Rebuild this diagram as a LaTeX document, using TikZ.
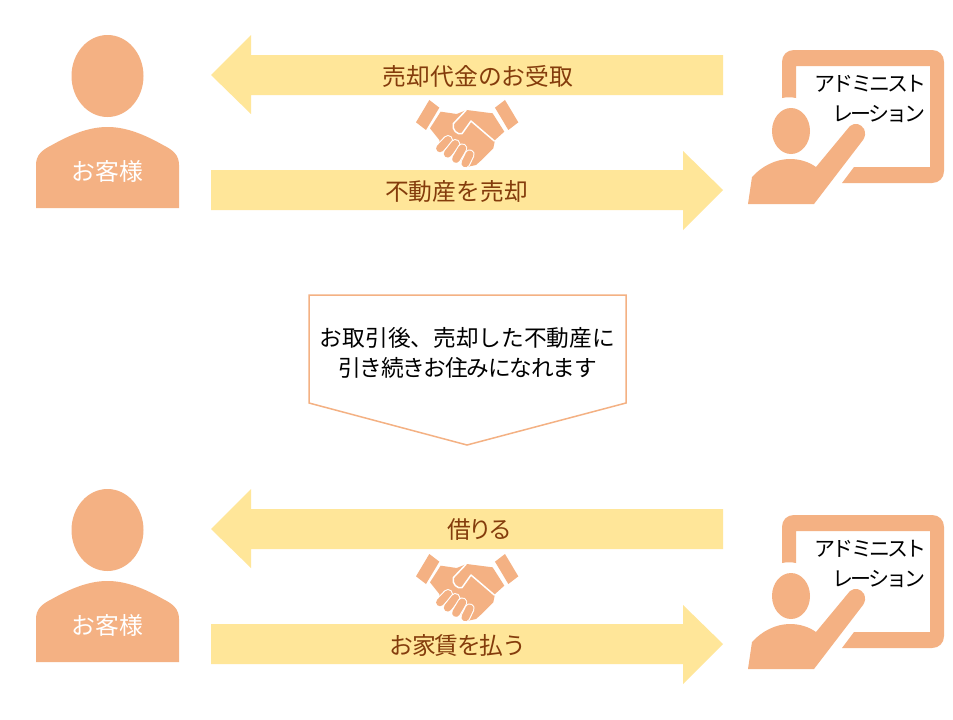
\documentclass[tikz,border=0pt]{standalone}
\usepackage{fontspec}
\setmainfont{Noto Sans CJK JP}
\newfontfamily\tightjp[LetterSpace=-13]{Noto Sans CJK JP}
\newfontfamily\slimjp[LetterSpace=-5.5]{Noto Sans CJK JP}
\definecolor{peach}{HTML}{F4B183}
\definecolor{band}{HTML}{FFE699}
\definecolor{brownink}{HTML}{843C0C}
\newcommand{\jp}[1]{\fontsize{#1}{#1}\selectfont}
\tikzset{
  bandtext/.style={text=brownink,font=\jp{23.8},inner sep=0pt,anchor=center},
  whitetext/.style={text=white,font=\jp{23.8},inner sep=0pt,anchor=center},
  blacktext/.style={text=black,font=\jp{22.7},inner sep=0pt,anchor=center},
  boardtext/.style={text=black,font=\tightjp\jp{21},inner sep=0pt,anchor=east},
  pics/customer/.style={code={
    \fill[peach] (107.5,76) ellipse[x radius=36,y radius=41];
    \fill[peach] (36,208) -- (36,165) .. controls (36,155) and (42,150) .. (52,145)
       .. controls (75,132) and (92,127) .. (107.5,127)
       .. controls (123,127) and (140,132) .. (163,145)
       .. controls (173,150) and (179,155) .. (179,165) -- (179,208) -- cycle;
  }},
  pics/shake/.style={code={
    \begin{scope}[shift={(400,85)},scale=0.3333]
      \fill[peach] (88,45) -- (118,68) -- (78,135) -- (48,112) -- cycle;
      \fill[peach] (315,45) -- (355,112) -- (325,135) -- (285,68) -- cycle;
      \fill[peach] (122,80) -- (170,87) -- (200,75) -- (278,85) -- (313,140) -- (285,165)
        -- (280,190) -- (262,208) -- (245,225) -- (228,240) -- (205,245) -- (150,205)
        -- (120,190) -- (118,165) -- (90,130) -- cycle;
      \draw[white,line width=1.5pt,line join=round,line cap=round] (198,76) -- (160,116)
        .. controls (155,135) and (172,150) .. (186,146) -- (213,108) -- (283,168);
      \foreach \xa/\ya/\xb/\yb in {144/165/120/190,166/177/143/206,187/190/168/222,209/208/196/235}{
        \draw[white,line width=10pt,line cap=round] (\xa,\ya) -- (\xb,\yb);
        \draw[peach,line width=7.8pt,line cap=round] (\xa,\ya) -- (\xb,\yb);
      }
    \end{scope}
  }},
  pics/board/.style={code={
    \fill[peach] (782,98) -- (782,62) .. controls (782,55) and (787,50) .. (794,50)
       -- (932,50) .. controls (939,50) and (944,55) .. (944,62)
       -- (944,171) .. controls (944,178) and (939,183) .. (932,183)
       -- (842,183) -- (854,167) -- (930,167) -- (930,66) -- (796,66) -- (796,98)
       .. controls (791,97) and (787,97) .. (782,98) -- cycle;
    \fill[peach] (791,131) ellipse[x radius=19,y radius=23];
    \fill[peach] (748,204) -- (752,177) .. controls (762,166) and (776,159) .. (790,159)
       .. controls (800,159) and (809,162) .. (816,167) -- (850,126)
       .. controls (855,122) and (861,124) .. (864,129) .. controls (866,133) and (865,137) .. (863,140)
       -- (814,204) -- cycle;
  }},
  pics/barrows/.style={code={
    \fill[band] (211,75) -- (251,35) -- (251,55) -- (723,55) -- (723,95) -- (251,95) -- (251,114) -- cycle;
    \fill[band] (211,170) -- (683,170) -- (683,151) -- (723,190) -- (683,230) -- (683,210) -- (211,210) -- cycle;
  }},
}
\begin{document}
\begin{tikzpicture}[x=1pt,y=-1pt]
\useasboundingbox (0,0) rectangle (953,720);
\fill[white] (0,0) rectangle (953,720);

% top group
\pic {barrows};
\pic {customer};
\pic {shake};
\pic {board};
\node[whitetext] (custA) at (107.5,171.5) {お客様};
\node[bandtext] (sellA) at (478,76) {売却代金のお受取};
\node[bandtext] (sellB) at (456.5,191.5) {不動産を売却};
\node[boardtext] (admA1) at (927,83.5) {アドミニスト};
\node[boardtext] (admA2) at (926,114) {レーション};

% callout
\draw[peach,line width=1.5pt,line join=miter] (309,295) -- (626,295) -- (626,403) -- (467,445) -- (309,403) -- cycle;
\node[blacktext] (noteA) at (467.5,337.5) {お取引後、売却した不動産に};
\node[blacktext,font=\slimjp\jp{22.7}] (noteB) at (467.5,367.5) {引き続きお住みになれます};

% bottom group
\begin{scope}[yshift=-454pt]
  \pic {barrows};
  \pic {customer};
  \pic {shake};
\end{scope}
\begin{scope}[yshift=-465pt]
  \pic {board};
\end{scope}
\node[whitetext] (custB) at (107.5,625.5) {お客様};
\node[bandtext,font=\tightjp\jp{23.8}] (lendA) at (480,530) {借りる};
\node[bandtext,font=\slimjp\jp{23.8}] (lendB) at (458,645.5) {お家賃を払う};
\node[boardtext] (admB1) at (927,548.5) {アドミニスト};
\node[boardtext] (admB2) at (926,579) {レーション};
\end{tikzpicture}
\end{document}
